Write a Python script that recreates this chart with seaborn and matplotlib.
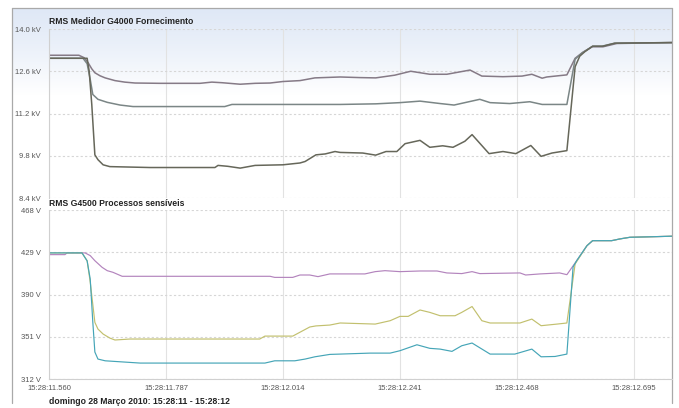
import numpy as np
import pandas as pd
import matplotlib
matplotlib.use("Agg")
import matplotlib.pyplot as plt
from matplotlib import font_manager
from matplotlib.lines import Line2D
import seaborn as sns

# ---- data: time in ms after 15:28:11.560 ----
t_kv_purple = [0, 58, 68, 76, 83, 89, 99, 109, 128, 147, 167, 215, 293, 316, 336, 371, 400, 429,
               454, 487, 516, 565, 603, 634, 671, 702, 739, 772, 817, 840, 881, 918, 937, 957,
               966, 1005, 1021, 1036, 1054, 1075, 1102, 1209]
kv_purple = [13.13, 13.13, 13.05, 12.88, 12.68, 12.55, 12.45, 12.38, 12.29, 12.24, 12.21, 12.20,
             12.20, 12.24, 12.22, 12.17, 12.20, 12.21, 12.26, 12.29, 12.38, 12.41, 12.39, 12.38,
             12.47, 12.60, 12.50, 12.50, 12.64, 12.44, 12.42, 12.44, 12.50, 12.37, 12.41, 12.48,
             13.03, 13.23, 13.41, 13.41, 13.52, 13.55]

t_kv_grey = [0, 66, 74, 80, 85, 95, 113, 138, 163, 341, 355, 565, 634, 681, 720, 759, 786, 836,
             856, 894, 933, 957, 1005, 1021, 1034, 1055, 1073, 1098, 1209]
kv_grey = [13.03, 13.03, 12.85, 12.33, 11.83, 11.67, 11.57, 11.48, 11.43, 11.43, 11.50, 11.50,
           11.52, 11.56, 11.61, 11.53, 11.48, 11.67, 11.56, 11.53, 11.59, 11.50, 11.50, 13.00,
           13.20, 13.43, 13.43, 13.53, 13.55]

t_kv_olive = [0, 74, 78, 83, 89, 95, 105, 118, 196, 322, 328, 347, 371, 400, 454, 487, 497, 518,
              536, 555, 565, 609, 634, 654, 675, 691, 720, 739, 764, 784, 807, 821, 854, 881,
              906, 935, 955, 976, 1005, 1021, 1030, 1040, 1055, 1075, 1098, 1209]
kv_olive = [13.03, 13.03, 12.60, 11.50, 9.83, 9.67, 9.50, 9.44, 9.41, 9.41, 9.48, 9.45, 9.39,
            9.48, 9.50, 9.56, 9.61, 9.83, 9.86, 9.94, 9.91, 9.89, 9.82, 9.94, 9.94, 10.20,
            10.31, 10.08, 10.13, 10.08, 10.28, 10.50, 9.87, 9.94, 9.87, 10.14, 9.78, 9.89,
            9.97, 12.75, 13.10, 13.25, 13.43, 13.43, 13.53, 13.55]

t_v_purple = [0, 31, 35, 70, 80, 89, 103, 113, 124, 142, 429, 438, 473, 487, 506, 522, 545, 565,
              613, 633, 652, 681, 720, 753, 772, 801, 821, 836, 914, 925, 953, 991, 1005, 1024,
              1044, 1055, 1092, 1108, 1127, 1209]
v_purple = [426.8, 426.8, 428.4, 428.4, 425.9, 421.2, 415.1, 412.0, 410.5, 406.8, 406.8, 405.8,
            405.8, 408.0, 408.0, 406.5, 409.0, 409.0, 409.0, 411.1, 412.0, 411.1, 411.7, 411.7,
            409.9, 409.3, 411.1, 409.3, 409.9, 408.0, 409.0, 409.9, 408.3, 421.2, 435.1, 439.7,
            439.7, 441.3, 442.8, 443.8]

t_v_yellow = [0, 64, 74, 80, 89, 95, 105, 118, 128, 157, 409, 419, 473, 506, 518, 545, 565, 633,
              662, 681, 697, 720, 739, 759, 788, 801, 821, 840, 856, 914, 937, 955, 986, 1005,
              1021, 1044, 1055, 1092, 1108, 1127, 1209]
v_yellow = [428.4, 428.4, 421.2, 401.5, 364.3, 358.1, 353.5, 349.8, 348.0, 348.9, 348.9, 351.6,
            351.6, 360.0, 361.0, 361.8, 363.7, 362.7, 365.8, 369.8, 369.8, 375.7, 373.5, 370.4,
            370.4, 373.5, 378.9, 365.8, 363.7, 363.7, 367.3, 361.2, 362.7, 363.7, 418.2, 435.1,
            439.7, 439.7, 441.3, 442.8, 443.8]

t_v_teal = [0, 64, 74, 80, 85, 89, 95, 109, 138, 177, 419, 438, 477, 497, 516, 545, 565, 623,
            662, 681, 714, 739, 759, 782, 801, 821, 856, 904, 937, 955, 982, 1005, 1017, 1024,
            1044, 1055, 1092, 1108, 1127, 1209]
v_teal = [428.4, 428.4, 421.0, 404.3, 364.6, 336.9, 330.4, 328.8, 327.9, 326.7, 326.7, 328.8,
          328.8, 330.4, 332.5, 334.7, 335.0, 335.9, 335.9, 338.1, 343.6, 340.3, 339.6, 337.5,
          342.7, 345.2, 335.0, 335.0, 339.6, 332.5, 332.8, 335.0, 415.4, 421.2, 435.1, 439.7,
          439.7, 441.3, 442.8, 443.8]

kv_ticks = [8.4, 9.8, 11.2, 12.6, 14.0]
v_ticks = [312, 351, 390, 429, 468]
time_ticks = [0, 227, 454, 681, 908, 1135]
time_labels = ["15:28:11.560", "15:28:11.787", "15:28:12.014",
               "15:28:12.241", "15:28:12.468", "15:28:12.695"]

title_top = "RMS Medidor G4000 Fornecimento"
title_bottom = "RMS G4500 Processos sensíveis"
footer = "domingo 28 Março 2010: 15:28:11 - 15:28:12"

# ---- long-form tables for seaborn ----
top = pd.concat([
    pd.DataFrame({"ms": t_kv_purple, "valor": kv_purple, "fase": "A"}),
    pd.DataFrame({"ms": t_kv_grey, "valor": kv_grey, "fase": "B"}),
    pd.DataFrame({"ms": t_kv_olive, "valor": kv_olive, "fase": "C"}),
], ignore_index=True)
bottom = pd.concat([
    pd.DataFrame({"ms": t_v_purple, "valor": v_purple, "fase": "A"}),
    pd.DataFrame({"ms": t_v_yellow, "valor": v_yellow, "fase": "B"}),
    pd.DataFrame({"ms": t_v_teal, "valor": v_teal, "fase": "C"}),
], ignore_index=True)

sns.set_theme(style="white")


def pick_font(names):
    for n in names:
        try:
            font_manager.findfont(n, fallback_to_default=False)
            return n
        except Exception:
            continue
    return "DejaVu Sans"


tick_font = pick_font(["Liberation Sans Narrow", "Liberation Sans"])
plt.rcParams["font.family"] = [tick_font, "DejaVu Sans"]

W, H = 679, 408
fig = plt.figure(figsize=(W / 100, H / 100), dpi=100)
fig.patch.set_facecolor("white")


def fx(px):
    return px / W


def fy(py):
    return 1 - py / H


# soft blue header gradient behind the upper panel
bg = fig.add_axes([fx(12), fy(95), fx(660), 87 / H], zorder=0)
g = np.linspace(0, 1, 200)[:, None]
g = np.clip(g, 0, 1) ** 1.2
top_col = np.array([0.875, 0.91, 0.965])
grad = top_col[None, None, :] * (1 - g[..., None]) + np.ones(3)[None, None, :] * g[..., None]
grad = np.repeat(grad, 2, axis=1)
bg.imshow(grad, aspect="auto", extent=[0, 1, 0, 1], origin="upper")
bg.axis("off")

ax1 = fig.add_axes([fx(49), fy(198), fx(623), 169 / H], zorder=2)
ax2 = fig.add_axes([fx(49), fy(379), fx(623), 169 / H], zorder=2)

pal_top = {"A": "#857a86", "B": "#7b8686", "C": "#66675a"}
pal_bot = {"A": "#b384bd", "B": "#c2c06e", "C": "#45a5b7"}

sns.lineplot(data=top, x="ms", y="valor", hue="fase", palette=pal_top, ax=ax1,
             estimator=None, sort=False, legend=False, linewidth=1.1)
sns.lineplot(data=bottom, x="ms", y="valor", hue="fase", palette=pal_bot, ax=ax2,
             estimator=None, sort=False, legend=False, linewidth=0.85)

for ax, ticks, fmt in [(ax1, kv_ticks, "{:.1f} kV"), (ax2, v_ticks, "{:.0f} V")]:
    ax.set_facecolor("none")
    ax.set_xlim(0, 1209)
    ax.set_ylim(ticks[0], ticks[-1])
    ax.set_yticks(ticks)
    ax.set_yticklabels([fmt.format(v) for v in ticks])
    ax.set_xticks(time_ticks)
    ax.set_xlabel("")
    ax.set_ylabel("")
    ax.tick_params(length=0, labelsize=5.5, colors="#555555", pad=6)
    for s in ax.spines.values():
        s.set_visible(False)
    ax.spines["left"].set_visible(True)
    ax.spines["left"].set_color("#d0d0d0")
    ax.spines["left"].set_linewidth(0.8)
    ax.grid(True, axis="x", color="#e2e2e2", linewidth=0.8, linestyle="-")
    ax.grid(True, axis="y", color="#d6d6d6", linewidth=0.8, linestyle=(0, (2, 2)))
    ax.set_axisbelow(True)

ax1.set_xticklabels([])
ax2.set_xticklabels(time_labels)
ax2.tick_params(axis="x", pad=4)
ax2.spines["bottom"].set_visible(True)
ax2.spines["bottom"].set_color("#d0d0d0")
ax2.spines["bottom"].set_linewidth(0.8)

bold = dict(fontsize=6.2, fontweight="bold", color="#222222",
            family=["Liberation Sans", "DejaVu Sans"], ha="left", va="center")
fig.text(fx(49), fy(22), title_top, **bold)
fig.text(fx(49), fy(204), title_bottom, **bold)
fig.text(fx(49), fy(402), footer, **bold)

# outer frame of the chart
frame = dict(color="#a9a9a9", linewidth=0.9, transform=fig.transFigure)
fig.add_artist(Line2D([fx(12), fx(12)], [fy(8), fy(403)], **frame))
fig.add_artist(Line2D([fx(12), fx(672)], [fy(8), fy(8)], **frame))
fig.add_artist(Line2D([fx(672), fx(672)], [fy(8), fy(403)], **frame))

fig.savefig("out.png", dpi=100)
